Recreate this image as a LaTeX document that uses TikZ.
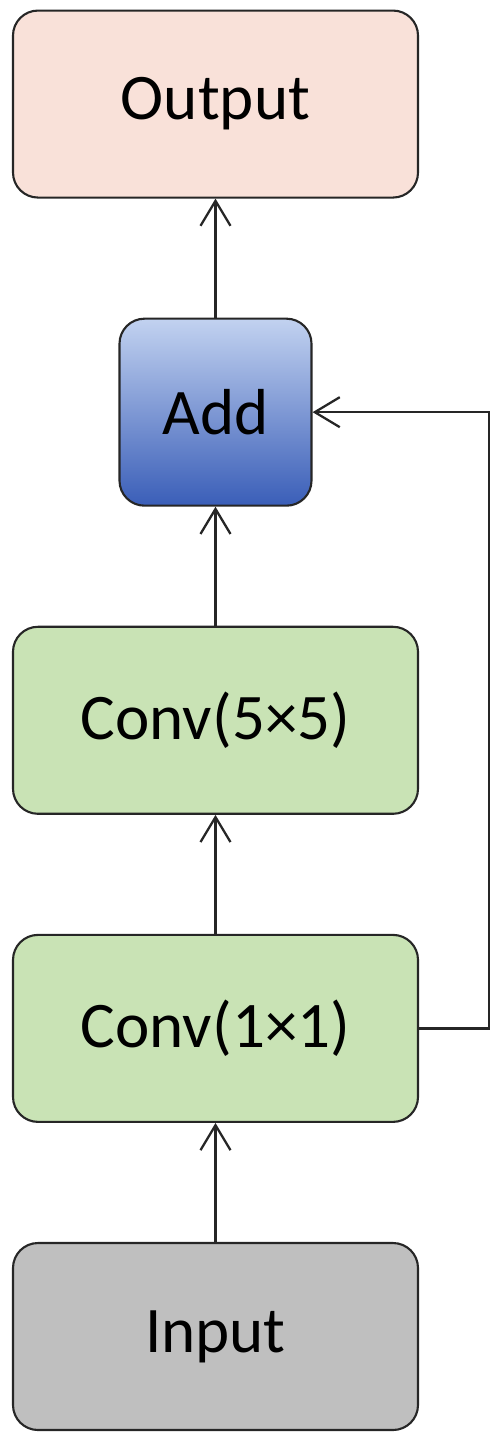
\documentclass[tikz,border=0pt]{standalone}
\usepackage{fontspec}
\setmainfont{Carlito}
\usetikzlibrary{arrows.meta,positioning}
\definecolor{edge}{HTML}{262626}
\definecolor{outfill}{HTML}{F9E1D9}
\definecolor{convfill}{HTML}{C9E3B5}
\definecolor{infill}{HTML}{BFBFBF}
\definecolor{addtop}{HTML}{C2D2F0}
\definecolor{addmid}{HTML}{4169C4}
\definecolor{addbot}{HTML}{3A5EB8}
\tikzset{blk/.style={draw=edge, line width=1.2pt, rounded corners=0.5cm, minimum width=8.1cm, minimum height=3.74cm, inner sep=0pt, font=\fontsize{37}{44}\selectfont}, flow/.style={-{Straight Barb[length=0.5cm,width=0.6cm]}, line width=1.3pt, color=edge}}

\begin{document}
\begin{tikzpicture}
\useasboundingbox (0,0) rectangle (10.04,-28.84);
\node[blk, fill=infill] (input) at (4.31,-26.73) {Input};
\node[blk, fill=convfill, above=2.38cm of input] (conv1) {Conv(1×1)};
\node[blk, fill=convfill, above=2.38cm of conv1] (conv5) {Conv(5×5)};
\node[blk, minimum width=3.84cm, top color=addtop, middle color=addmid, bottom color=addbot, above=2.38cm of conv5] (add) {Add};
\node[blk, fill=outfill, above=2.38cm of add] (output) {Output};
\coordinate (skip) at (9.78,0);
\draw[flow] (input) -- (conv1);
\draw[flow] (conv1) -- (conv5);
\draw[flow] (conv5) -- (add);
\draw[flow] (add) -- (output);
\draw[flow] (conv1.east) -- (conv1.east -| skip) |- (add.east);
\end{tikzpicture}
\end{document}
